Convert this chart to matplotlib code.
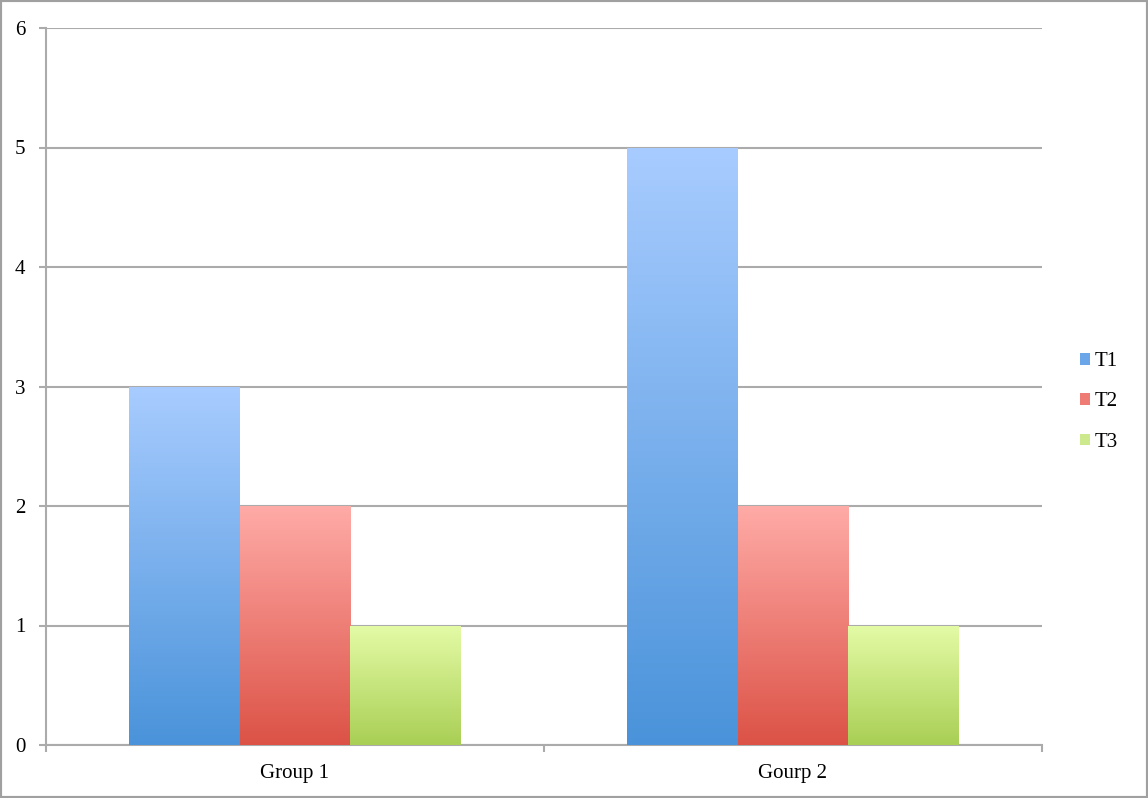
import numpy as np
import matplotlib
matplotlib.use("Agg")
import matplotlib.pyplot as plt
from matplotlib.colors import LinearSegmentedColormap
from matplotlib.patches import Rectangle

# data
groups = ['Group 1', 'Gourp 2']
series_names = ['T1', 'T2', 'T3']
t1 = [3, 5]
t2 = [2, 2]
t3 = [1, 1]
yticks = [0, 1, 2, 3, 4, 5, 6]

# (bottom colour, top colour) for each series gradient
grads = [('#4A93DA', '#A8CCFF'), ('#DC5246', '#FFABA7'), ('#A9CF55', '#E4FBA6')]
legend_cols = ['#6AA6E8', '#EE7C74', '#CDE98E']

plt.rcParams['font.family'] = ['Liberation Serif', 'DejaVu Serif']

fig = plt.figure(figsize=(11.48, 7.98), dpi=100)
ax = fig.add_axes([46/1148, 53/798, (1042-46)/1148, (745-28)/798])

grid_col = '#ABABAB'
x = np.arange(len(groups))
w = 0.222
gradient = np.linspace(0, 1, 256).reshape(-1, 1)

for i, vals in enumerate([t1, t2, t3]):
    bars = ax.bar(x + (i - 1) * w, vals, width=w, color='none', edgecolor='none', zorder=3)
    cmap = LinearSegmentedColormap.from_list('g%d' % i, list(grads[i]))
    for b in bars:
        bx, by = b.get_x(), b.get_y()
        bw, bh = b.get_width(), b.get_height()
        im = ax.imshow(gradient, cmap=cmap, origin='lower', aspect='auto',
                       extent=[bx, bx + bw, by, by + bh], zorder=3)
        im.set_clip_path(b)

ax.set_xlim(-0.5, len(groups) - 0.5)
ax.set_ylim(0, 6)
ax.set_yticks(yticks)
ax.yaxis.grid(True, color=grid_col, linewidth=1.5, zorder=0)
ax.set_axisbelow(True)

ax.set_xticks(x)
ax.set_xticklabels(groups)
ax.set_xticks(np.arange(-0.5, len(groups)), minor=True)
ax.tick_params(axis='x', which='major', length=0, pad=14, labelsize=15)
ax.tick_params(axis='x', which='minor', length=5, width=1.5, color=grid_col)
ax.tick_params(axis='y', length=5, width=1.5, color=grid_col, pad=10, labelsize=15)

for s in ['top', 'right']:
    ax.spines[s].set_visible(False)
for s in ['left', 'bottom']:
    ax.spines[s].set_color(grid_col)
    ax.spines[s].set_linewidth(1.5)

handles = [Rectangle((0, 0), 1, 1, facecolor=c, edgecolor='none') for c in legend_cols]
fig.legend(handles, series_names, loc='center left', bbox_to_anchor=(1061/1148, 0.5 - 3/798),
           frameon=False, fontsize=15, handlelength=0.48, handleheight=0.48,
           handletextpad=0.25, labelspacing=1.02)

# grey frame round the whole picture
fig.patches.append(Rectangle((0, 0), 1, 1, transform=fig.transFigure, fill=False,
                             edgecolor='#A0A0A0', linewidth=3))

fig.savefig('out.png', dpi=100)
